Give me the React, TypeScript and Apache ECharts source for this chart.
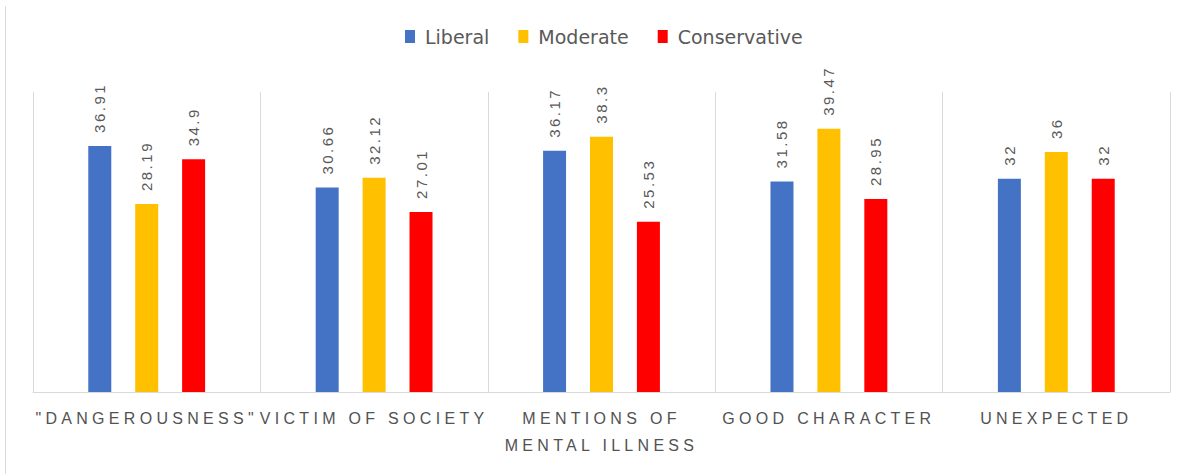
import React, { useEffect, useRef } from "react";
import * as echarts from "echarts";

const categories = ['"DANGEROUSNESS"', "VICTIM OF SOCIETY", "MENTIONS OF MENTAL ILLNESS", "GOOD CHARACTER", "UNEXPECTED"];
const seriesNames = ["Liberal", "Moderate", "Conservative"];
const liberal = [36.91, 30.66, 36.17, 31.58, 32];
const moderate = [28.19, 32.12, 38.3, 39.47, 36];
const conservative = [34.9, 27.01, 25.53, 28.95, 32];
const colors = ["#4472C4", "#FFC000", "#FF0000"];

const TEXT = "#595959";
const GRID_LINE = "#d9d9d9";

const wrapLabel = (v: string) => (v === "MENTIONS OF MENTAL ILLNESS" ? "MENTIONS OF\nMENTAL ILLNESS" : v);

export default function App() {
  const ref = useRef<HTMLDivElement>(null);

  useEffect(() => {
    if (!ref.current) return;
    const chart = echarts.init(ref.current, undefined, { renderer: "svg" });
    const values = [liberal, moderate, conservative];

    const option: any = {
      animation: false,
      backgroundColor: "#ffffff",
      textStyle: { fontFamily: "Liberation Sans" },
      legend: {
        top: 27,
        left: 405,
        padding: 0,
        itemWidth: 10,
        itemHeight: 13,
        itemGap: 29,
        icon: "rect",
        textStyle: { fontSize: 19, color: TEXT, fontFamily: "DejaVu Sans", padding: [0, 0, 0, 5] },
        data: seriesNames,
      },
      grid: { left: 33, right: 18, top: 92, bottom: 82, containLabel: false },
      xAxis: {
        type: "category",
        data: categories,
        axisLine: { show: true, lineStyle: { color: GRID_LINE, width: 1 } },
        axisTick: { show: false },
        splitLine: { show: true, lineStyle: { color: GRID_LINE, width: 1 } },
        axisLabel: {
          interval: 0,
          margin: 13,
          fontSize: 16,
          lineHeight: 27,
          color: "#525252",
          fontFamily: "Liberation Sans",
          formatter: wrapLabel,
        },
      },
      yAxis: { type: "value", min: 0, max: 45, show: false, splitLine: { show: false } },
      graphic: [
        { type: "line", shape: { x1: 5.5, y1: 6, x2: 5.5, y2: 474 }, style: { stroke: GRID_LINE, lineWidth: 1 } },
      ],
      series: seriesNames.map((name, i) => ({
        name,
        type: "bar",
        data: values[i],
        barWidth: 23,
        barGap: "104%",
        itemStyle: { color: colors[i] },
        label: {
          show: true,
          position: "top",
          rotate: 90,
          align: "left",
          verticalAlign: "middle",
          distance: 13,
          fontSize: 15,
          color: TEXT,
          fontFamily: "Liberation Sans",
        },
      })),
    };

    const applySpacing = () => {
      const root = ref.current;
      if (!root) return;
      const texts = root.querySelectorAll("text");
      texts.forEach((t) => {
        const s = (t.textContent || "").trim();
        if (seriesNames.includes(s)) return;
        if (/^[0-9.]+$/.test(s)) {
          t.setAttribute("letter-spacing", "2.5");
        } else if (s.length > 0) {
          t.setAttribute("letter-spacing", "4.3");
        }
      });
    };

    chart.on("finished", applySpacing);
    chart.setOption(option);
    chart.getZr().refreshImmediately();
    applySpacing();

    return () => {
      chart.dispose();
    };
  }, []);

  return (
    <div
      ref={ref}
      style={{ position: "fixed", left: 0, top: 0, width: 1188, height: 474, background: "#fff" }}
    />
  );
}
